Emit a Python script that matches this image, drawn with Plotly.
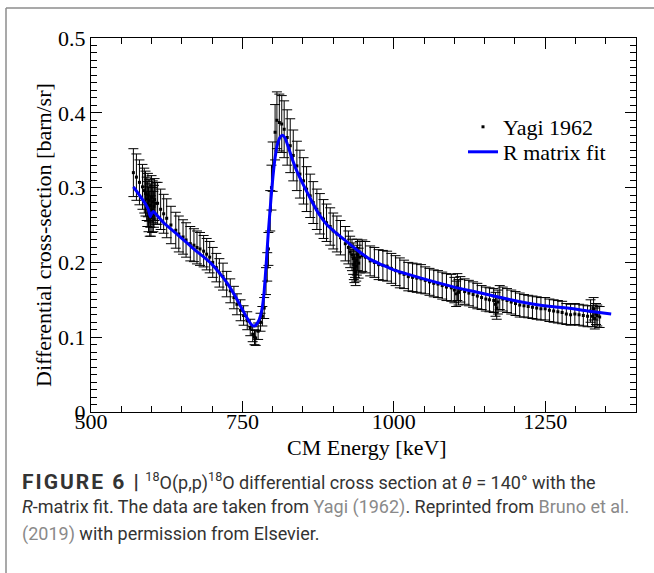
import plotly.graph_objects as go

# ---------------- data ----------------
energy_keV = [570, 575, 580, 585, 588, 590, 592, 593, 594, 595, 596, 597, 598, 599, 600, 601, 602, 603, 604, 605,
              607, 610, 615, 620, 625, 632, 640, 645, 652, 657, 664, 670, 675, 680, 686, 691, 696, 701, 707, 712,
              718, 724, 730, 736, 741, 747, 752, 758, 763, 767, 770, 772, 776, 780, 783, 786, 789, 791, 793, 796,
              798, 800, 804, 807, 811, 815, 819, 824, 829, 834, 840, 845, 851, 856, 862, 867, 873, 878, 884, 889,
              895, 900, 906, 912, 920, 925, 928, 931, 933, 934, 935, 936, 937, 938, 939, 940, 942, 944, 948, 953,
              961, 968, 975, 982, 989, 996, 1003, 1010, 1017, 1024, 1031, 1038, 1045, 1052, 1059, 1066, 1073, 1080, 1087, 1095,
              1100, 1103, 1105, 1107, 1110, 1117, 1124, 1131, 1138, 1145, 1152, 1158, 1165, 1168, 1170, 1172, 1175, 1180, 1187, 1194,
              1201, 1208, 1215, 1222, 1229, 1236, 1243, 1250, 1257, 1264, 1271, 1278, 1285, 1292, 1299, 1306, 1313, 1320, 1325, 1328,
              1330, 1332, 1334, 1336, 1340]
cross_section = [0.320, 0.314, 0.307, 0.301, 0.296, 0.292, 0.285, 0.278, 0.290, 0.271, 0.283, 0.265, 0.276, 0.262, 0.287, 0.270, 0.281, 0.268, 0.275, 0.284,
                 0.279, 0.279, 0.271, 0.265, 0.259, 0.250, 0.243, 0.238, 0.234, 0.230, 0.225, 0.223, 0.220, 0.218, 0.215, 0.211, 0.207, 0.200, 0.193, 0.186,
                 0.181, 0.171, 0.162, 0.153, 0.144, 0.136, 0.129, 0.122, 0.113, 0.104, 0.100, 0.099, 0.108, 0.120, 0.128, 0.139, 0.175, 0.194, 0.218, 0.269,
                 0.300, 0.328, 0.374, 0.390, 0.387, 0.385, 0.378, 0.367, 0.356, 0.343, 0.329, 0.318, 0.309, 0.298, 0.289, 0.280, 0.271, 0.265, 0.258, 0.253,
                 0.248, 0.242, 0.238, 0.233, 0.225, 0.220, 0.214, 0.210, 0.205, 0.197, 0.192, 0.200, 0.188, 0.195, 0.203, 0.210, 0.199, 0.207, 0.209, 0.207,
                 0.202, 0.200, 0.197, 0.196, 0.195, 0.192, 0.189, 0.186, 0.184, 0.181, 0.180, 0.179, 0.178, 0.176, 0.174, 0.172, 0.171, 0.169, 0.167, 0.166,
                 0.163, 0.158, 0.167, 0.160, 0.164, 0.161, 0.159, 0.157, 0.155, 0.153, 0.151, 0.150, 0.149, 0.144, 0.139, 0.147, 0.153, 0.151, 0.149, 0.147,
                 0.145, 0.143, 0.142, 0.141, 0.140, 0.139, 0.138, 0.138, 0.136, 0.135, 0.134, 0.133, 0.131, 0.130, 0.131, 0.130, 0.129, 0.128, 0.135, 0.128,
                 0.138, 0.125, 0.131, 0.129, 0.127]
cross_section_err = [0.032, 0.031, 0.030, 0.030, 0.030, 0.030, 0.029, 0.030, 0.029, 0.030, 0.028, 0.030, 0.029, 0.027, 0.029, 0.030, 0.028, 0.027, 0.028, 0.028,
                     0.028, 0.028, 0.027, 0.026, 0.026, 0.025, 0.024, 0.024, 0.023, 0.023, 0.023, 0.022, 0.022, 0.022, 0.021, 0.021, 0.021, 0.020, 0.019, 0.019,
                     0.018, 0.017, 0.016, 0.015, 0.014, 0.014, 0.013, 0.012, 0.011, 0.010, 0.010, 0.010, 0.011, 0.012, 0.013, 0.014, 0.018, 0.019, 0.022, 0.027,
                     0.030, 0.033, 0.037, 0.038, 0.038, 0.038, 0.038, 0.037, 0.036, 0.034, 0.033, 0.032, 0.031, 0.030, 0.029, 0.028, 0.027, 0.027, 0.026, 0.025,
                     0.025, 0.024, 0.024, 0.023, 0.023, 0.022, 0.021, 0.021, 0.021, 0.020, 0.019, 0.020, 0.019, 0.020, 0.020, 0.021, 0.020, 0.021, 0.021, 0.021,
                     0.020, 0.020, 0.020, 0.020, 0.020, 0.020, 0.020, 0.020, 0.019, 0.019, 0.019, 0.019, 0.019, 0.018, 0.018, 0.018, 0.018, 0.018, 0.018, 0.018,
                     0.017, 0.017, 0.018, 0.017, 0.017, 0.017, 0.017, 0.017, 0.017, 0.016, 0.016, 0.016, 0.016, 0.016, 0.015, 0.016, 0.016, 0.016, 0.016, 0.016,
                     0.016, 0.016, 0.015, 0.015, 0.015, 0.015, 0.015, 0.015, 0.015, 0.015, 0.015, 0.015, 0.014, 0.014, 0.014, 0.014, 0.014, 0.014, 0.015, 0.014,
                     0.015, 0.014, 0.014, 0.014, 0.014]

fit_energy_keV = [570, 580, 590, 595, 598, 600, 603, 610, 620, 640, 660, 671, 685, 699, 712, 726, 738, 748, 756, 762,
                  766, 770, 774, 778, 782, 785.5, 788.8, 792.6, 797, 800.5, 804, 808, 812, 816, 820, 826, 832, 840, 853, 865,
                  876, 890, 908, 925, 942, 961, 980, 1000, 1020, 1045, 1072, 1100, 1127, 1160, 1193, 1232, 1260, 1287, 1320, 1359]
fit_cross_section = [0.301, 0.290, 0.278, 0.270, 0.261, 0.265, 0.268, 0.262, 0.253, 0.239, 0.225, 0.217, 0.208, 0.198, 0.186, 0.171, 0.155, 0.140, 0.128, 0.120,
                     0.116, 0.115, 0.118, 0.124, 0.136, 0.157, 0.192, 0.238, 0.283, 0.315, 0.340, 0.358, 0.367, 0.370, 0.367, 0.354, 0.339, 0.322, 0.300, 0.281,
                     0.265, 0.250, 0.237, 0.226, 0.215, 0.204, 0.197, 0.190, 0.185, 0.179, 0.173, 0.167, 0.162, 0.156, 0.150, 0.144, 0.141, 0.139, 0.135, 0.131]

x_ticks = [500, 750, 1000, 1250]
x_tick_labels = ["500", "750", "1000", "1250"]
y_ticks = [0, 0.1, 0.2, 0.3, 0.4, 0.5]
y_tick_labels = ["0", "0.1", "0.2", "0.3", "0.4", "0.5"]

# ---------------- layout geometry (pixels) ----------------
W, H = 654, 573
L, R, T, B = 91, 636, 38, 412


def px_x(px):
    return (px - L) / (R - L)


def px_y(py):
    return (B - py) / (B - T)


serif = "Liberation Serif, Times New Roman, serif"
sans = "Roboto, Liberation Sans, Arial, sans-serif"

fig = go.Figure()
fig.add_trace(go.Scatter(
    x=energy_keV, y=cross_section, mode="markers", name="Yagi 1962", legend="legend",
    marker=dict(symbol="square", size=3, color="black"),
    error_y=dict(type="data", array=cross_section_err, visible=True,
                 color="black", thickness=1, width=5),
))
fig.add_trace(go.Scatter(
    x=fit_energy_keV, y=fit_cross_section, mode="lines", name="R matrix fit", legend="legend2",
    line=dict(color="#0000ff", width=3, shape="spline", smoothing=0.5),
))

axis_common = dict(
    showline=True, linecolor="black", linewidth=1, mirror="ticks",
    ticks="inside", ticklen=11, tickwidth=1, tickcolor="black",
    showgrid=False, zeroline=False,
    tickfont=dict(family=serif, size=22, color="black"),
)
fig.update_xaxes(
    range=[500, 1400], tickvals=x_ticks, ticktext=x_tick_labels,
    minor=dict(dtick=50, tick0=500, ticks="inside", ticklen=6, tickcolor="black", showgrid=False),
    ticklabelstandoff=-10,
    **axis_common,
)
fig.update_yaxes(
    range=[0, 0.5], tickvals=y_ticks, ticktext=y_tick_labels,
    minor=dict(dtick=0.01, tick0=0, ticks="inside", ticklen=6, tickcolor="black", showgrid=False),
    ticklabelstandoff=0,
    **axis_common,
)

legend_common = dict(xanchor="left", yanchor="middle", bgcolor="rgba(0,0,0,0)", borderwidth=0,
                     font=dict(family=serif, size=22, color="black"), itemwidth=30)
fig.update_layout(
    width=W, height=H,
    margin=dict(l=L, r=W - R, t=T, b=H - B, pad=0),
    paper_bgcolor="white", plot_bgcolor="white",
    showlegend=True,
    legend=dict(x=px_x(463), y=px_y(127), **legend_common),
    legend2=dict(x=px_x(463), y=px_y(152), **legend_common),
)

# axis titles
fig.add_annotation(text="CM Energy [keV]", xref="paper", yref="paper", x=px_x(367), y=px_y(447),
                   xanchor="center", yanchor="middle", showarrow=False,
                   font=dict(family=serif, size=22, color="black"))
fig.add_annotation(text="Differential cross-section [barn/sr]", xref="paper", yref="paper",
                   x=px_x(43), y=px_y(235), textangle=-90,
                   xanchor="center", yanchor="middle", showarrow=False,
                   font=dict(family=serif, size=22, color="black"))

# outer frame of the figure panel
fig.add_shape(type="line", xref="paper", yref="paper",
              x0=px_x(6), x1=px_x(6), y0=px_y(8), y1=px_y(H + 2),
              line=dict(color="#8c8c8c", width=1.5))
fig.add_shape(type="line", xref="paper", yref="paper",
              x0=px_x(6), x1=px_x(W + 2), y0=px_y(8), y1=px_y(8),
              line=dict(color="#8c8c8c", width=1.5))

cap_font = dict(family=sans, size=18, color="#333333")
link = "<span style='color:#8a8a8a'>{}</span>"
caption_lines = [
    "<span style='font-size:21px;letter-spacing:2px'><b>FIGURE 6 |</b></span>&nbsp;<sup>18</sup>O(p,p)<sup>18</sup>O differential cross section at <i>θ</i>&nbsp;=&nbsp;140° with the",
    "<i>R</i>-matrix fit. The data are taken from " + link.format("Yagi (1962)") + ". Reprinted from " + link.format("Bruno et al."),
    link.format("(2019)") + " with permission from Elsevier.",
]
caption_y = [481, 507, 534]
for text, yy in zip(caption_lines, caption_y):
    fig.add_annotation(text=text, xref="paper", yref="paper", x=px_x(20), y=px_y(yy),
                       xanchor="left", yanchor="middle", showarrow=False, font=cap_font)

fig.write_html("out.html", config={"displayModeBar": False},
               post_script="document.body.style.margin='0px';")
